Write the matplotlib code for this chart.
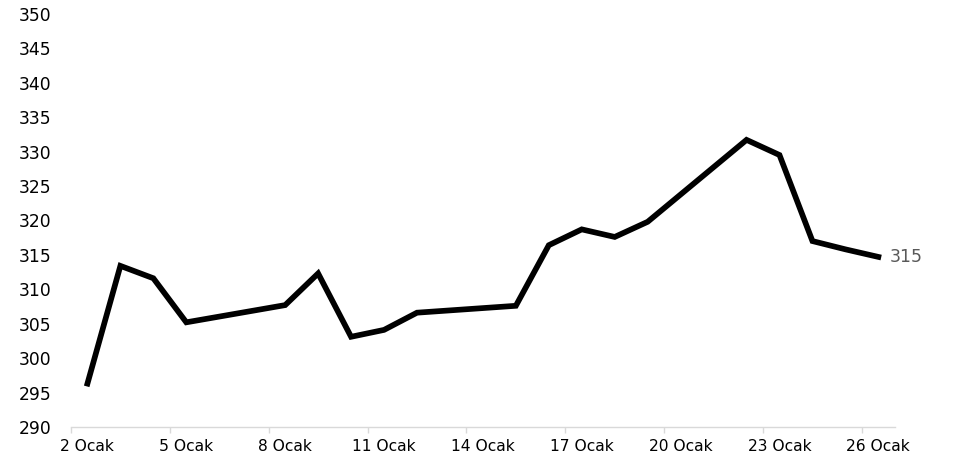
import numpy as np
import matplotlib.pyplot as plt

# günler (Ocak) ve değerler
gunler = [2, 3, 4, 5, 8, 9, 10, 11, 12, 15, 16, 17, 18, 19, 22, 23, 24, 25, 26]
degerler = [296.3, 313.4, 311.6, 305.2, 307.7, 312.3, 303.1, 304.1, 306.6, 307.6,
            316.4, 318.7, 317.6, 319.8, 331.7, 329.5, 317.0, 315.8, 314.7]
etiket_gunler = [2, 5, 8, 11, 14, 17, 20, 23, 26]
etiketler = ["%d Ocak" % g for g in etiket_gunler]

plt.rcParams['font.family'] = ['DejaVu Sans']
fig = plt.figure(figsize=(9.55, 4.62), dpi=100)
ax = fig.add_axes([0.0743, 0.0758, 0.937 - 0.0743, 0.970 - 0.0758])

ax.plot(gunler, degerler, color='black', linewidth=4.1, solid_joinstyle='miter')
ax.annotate("%.0f" % degerler[-1], (gunler[-1], degerler[-1]), xytext=(8, 0),
            textcoords='offset points', va='center', ha='left',
            fontsize=12.5, color='#595959')

ax.set_xlim(1.5, 26.5)
ax.set_ylim(290, 350)
ax.set_yticks(np.arange(290, 351, 5))
ax.set_xticks(etiket_gunler)
ax.set_xticklabels(etiketler)
ax.set_xticks(np.arange(1.5, 26, 3), minor=True)
ax.tick_params(axis='x', which='major', length=0, pad=9, labelsize=11.2, colors='black')
ax.tick_params(axis='x', which='minor', length=4, width=1, color='#d9d9d9')
ax.tick_params(axis='y', length=0, pad=14, labelsize=12.3)

for s in ['top', 'right', 'left']:
    ax.spines[s].set_visible(False)
ax.spines['bottom'].set_color('#d9d9d9')
ax.spines['bottom'].set_linewidth(1)

fig.savefig('out.png', dpi=100)
